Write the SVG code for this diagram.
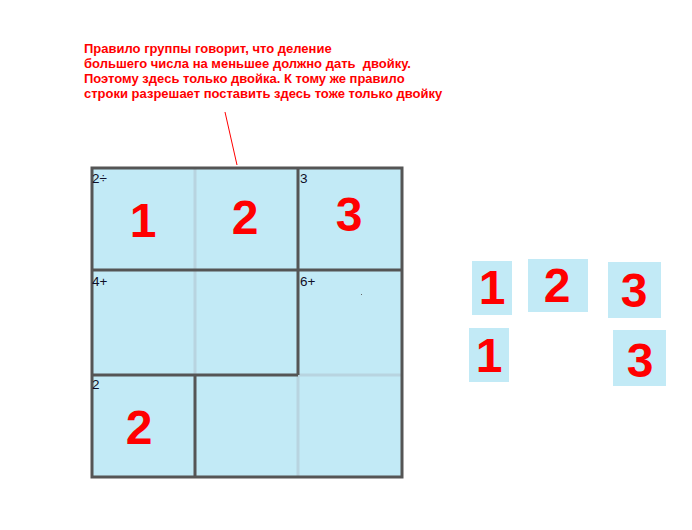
<svg xmlns="http://www.w3.org/2000/svg" width="692" height="530" viewBox="0 0 692 530">
<style>
.note{font-family:"Liberation Sans",Arial,sans-serif;font-weight:bold;font-size:13px;fill:#ff0000;white-space:pre}
.lbl{font-family:"Liberation Sans",Arial,sans-serif;font-size:13.5px;fill:#101028}
.big{font-family:"Liberation Sans",Arial,sans-serif;font-weight:bold;font-size:48px;fill:#ff0000;text-anchor:middle}
.cell{fill:#c2eaf6}
.dark{stroke:#555;stroke-width:3;fill:none}
.light{stroke:#b8d4e0;stroke-width:3;fill:none}
</style>
<rect width="692" height="530" fill="#fff"/>
<g id="note">
<text class="note" x="84" y="53">Правило группы говорит, что деление</text>
<text class="note" x="84" y="68" xml:space="preserve">большего числа на меньшее должно дать  двойку.</text>
<text class="note" x="84" y="83">Поэтому здесь только двойка. К тому же правило</text>
<text class="note" x="84" y="98">строки разрешает поставить здесь тоже только двойку</text>
</g>
<g id="connectors">
<line x1="225" y1="112" x2="237" y2="165" stroke="#ff0000" stroke-width="1"/>
</g>
<g id="grid">
<rect class="cell" x="92" y="168" width="310" height="309"/>
<path class="light" d="M195 168V375 M298 375H402 M298 375V477"/>
<path class="dark" d="M92 270H402 M92 375H298 M298 168V375 M195 375V477"/>
<rect class="dark" x="92" y="168" width="310" height="309"/>
<rect x="361" y="294" width="1" height="1" fill="#666"/>
</g>
<g id="labels">
<text class="lbl" x="92" y="183">2÷</text>
<text class="lbl" x="300" y="183">3</text>
<text class="lbl" x="92" y="286">4+</text>
<text class="lbl" x="300" y="286">6+</text>
<text class="lbl" x="92" y="389">2</text>
</g>
<g id="values">
<text class="big" x="143" y="237">1</text>
<text class="big" x="245" y="234">2</text>
<text class="big" x="349" y="231">3</text>
<text class="big" x="139" y="444">2</text>
</g>
<g id="pool">
<g id="p1"><rect class="cell" x="472" y="261" width="40" height="54"/><text class="big" x="492" y="304">1</text></g>
<g id="p2"><rect class="cell" x="528" y="259" width="60" height="53"/><text class="big" x="557" y="302">2</text></g>
<g id="p3"><rect class="cell" x="608" y="262" width="53" height="56"/><text class="big" x="634" y="307">3</text></g>
<g id="p4"><rect class="cell" x="469" y="328" width="40" height="54"/><text class="big" x="489" y="372">1</text></g>
<g id="p5"><rect class="cell" x="613" y="330" width="53" height="56"/><text class="big" x="640" y="377">3</text></g>
</g>
</svg>
